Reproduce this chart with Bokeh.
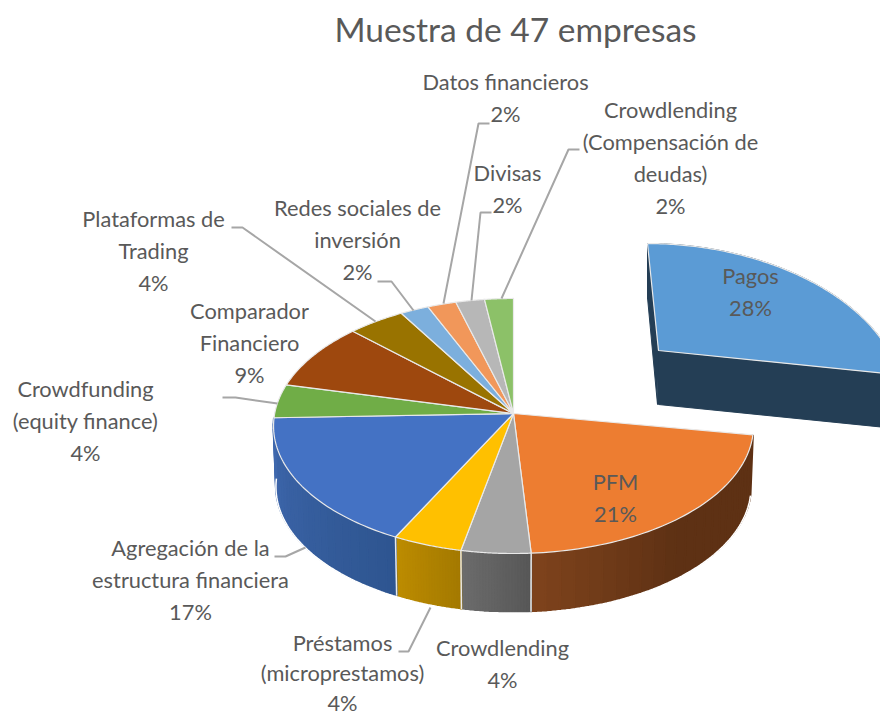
import numpy as np
from bokeh.plotting import figure
from bokeh.models import Range1d
from bokeh.core.properties import value
from bokeh.embed import file_html
from bokeh.resources import INLINE

# ---- data -----------------------------------------------------------------
title_text = "Muestra de 47 empresas"
categories = ["Pagos", "PFM", "Crowdlending", "Préstamos (microprestamos)",
              "Agregación de la estructura financiera", "Crowdfunding (equity finance)",
              "Comparador Financiero", "Plataformas de Trading", "Redes sociales de inversión",
              "Datos financieros", "Divisas", "Crowdlending (Compensación de deudas)"]
companies = [13, 10, 2, 2, 8, 2, 4, 2, 1, 1, 1, 1]
label_lines = [["Pagos"], ["PFM"], ["Crowdlending"], ["Préstamos", "(microprestamos)"],
               ["Agregación de la", "estructura financiera"], ["Crowdfunding", "(equity finance)"],
               ["Comparador", "Financiero"], ["Plataformas de", "Trading"],
               ["Redes sociales de", "inversión"], ["Datos financieros"], ["Divisas"],
               ["Crowdlending", "(Compensación de", "deudas)"]]
colors = ["#5B9BD5", "#ED7D31", "#A5A5A5", "#FFC000", "#4472C4", "#70AD47",
          "#9E480E", "#997300", "#7CAFDD", "#F1975A", "#B7B7B7", "#8CC168"]
wall_left = [None, "#7F431C", "#6C6C6C", "#BD8C00", "#3F68AE"] + [None] * 7
wall_right = [None, "#5E3114", "#575757", "#A37900", "#2E5590"] + [None] * 7

# ---- layout ---------------------------------------------------------------
W, H = 880, 715
CX, CY, B, A, K, DEPTH, SHRINK = 513, 413, 238.8, 126.3, 0.098, 60, 0.99
PX, PY, PB, PA, PK, PSKEW, PDEPTH = 658, 350, 230, 139, 0.30, 11, 54
EDGE = "#E9E9E9"
TEXT = "#595959"
LEADER = "#A6A6A6"
FONT = "Lato"
LABEL_SIZE = "21.8px"
label_x = [750, 615, 502, 342, 190, 85, 249, 153, 357, 505, 507, 670]
label_y = [275, 481, 647, 642, 547, 388, 310, 218, 207, 81, 172, 109]
label_step = [32, 32, 32, 30, 32, 32, 32, 32, 32, 32, 32, 32]
leaders = [
    ([489, 478, 443], [123, 123, 303]),
    ([491, 480, 471], [212, 212, 300]),
    ([579, 568, 501], [149, 149, 298]),
    ([377, 391, 413], [281, 281, 310]),
    ([231, 242, 375], [227, 227, 321]),
    ([222, 235, 277], [397, 397, 403]),
    ([274, 285, 305], [556, 556, 547]),
    ([398, 408, 430], [651, 651, 607]),
]


def main_rim(phi, scale=1.0, drop=0.0):
    u = -np.cos(phi)
    d = 1 - K * u
    return CX + scale * B * np.sin(phi) / d, CY + drop + scale * A * u / d


def pay_rim(phi, drop=0.0, scale=1.0):
    u = -np.cos(phi)
    d = 1 - PK * u
    return PX + scale * (PB * np.sin(phi) / d + PSKEW * u), PY + drop + scale * PA * u / d


def mix(c1, c2, t):
    a = [int(c1[i:i + 2], 16) for i in (1, 3, 5)]
    b = [int(c2[i:i + 2], 16) for i in (1, 3, 5)]
    return "#%02x%02x%02x" % tuple(int(round(x + (y - x) * t)) for x, y in zip(a, b))


shares = np.array(companies, dtype=float) / sum(companies)
edges = np.concatenate([[0.0], np.cumsum(shares)]) * 2 * np.pi

p = figure(width=W, height=H, x_range=Range1d(0, W), y_range=Range1d(H, 0),
           toolbar_location=None, output_backend="svg", min_border=0,
           outline_line_color=None, background_fill_color="white", border_fill_color="white")
p.axis.visible = False
p.grid.visible = False

# walls of the main pie (drawn clockwise; each strip overlaps the one before it)
xs, ys, fills = [], [], []
for i in range(1, 5):
    a0, a1 = edges[i], edges[i + 1]
    n = 24
    steps = np.linspace(a0, a1, n + 1)
    for j in range(n):
        t0, t1 = steps[j], steps[j + 1]
        arc_top = np.linspace(t0, t1, 5)
        xa, ya = main_rim(arc_top)
        xb, yb = main_rim(arc_top[::-1], SHRINK, DEPTH)
        xs.append(list(xa) + list(xb))
        ys.append(list(ya) + list(yb))
        f = (j + 0.5) / n
        if i == 1:
            f = max(0.0, (f - 0.55) / 0.45)
        fills.append(mix(wall_right[i], wall_left[i], f))
p.patches(xs, ys, fill_color=fills, line_color=fills, line_width=2.0)

# light seams of the walls
seam_x, seam_y = [], []
for i in range(2, 5):
    x0, y0 = main_rim(edges[i])
    x1, y1 = main_rim(edges[i], SHRINK, DEPTH)
    seam_x.append([x0, x1])
    seam_y.append([y0, y1])
p.multi_line(seam_x, seam_y, line_color=EDGE, line_width=1.5)
low = np.linspace(edges[1], edges[5], 160)
lx, ly = main_rim(low, SHRINK, DEPTH + 1)
p.line(lx, ly, line_color="white", line_width=1.5)

# top faces of the main pie
tx, ty = [], []
for i in range(1, 12):
    arc = np.linspace(edges[i], edges[i + 1], 60)
    ax, ay = main_rim(arc)
    tx.append([CX] + list(ax))
    ty.append([CY] + list(ay))
p.patches(tx, ty, fill_color=colors[1:], line_color=EDGE, line_width=1.2, line_join="round")

# exploded slice
arc = np.linspace(edges[0], edges[1], 120)
x_top, y_top = pay_rim(arc)
x_low, y_low = pay_rim(arc, PDEPTH, 0.985)
WALL = "#243E55"
p.patch(list(x_top) + list(x_low[::-1]), list(y_top) + list(y_low[::-1]),
        fill_color=WALL, line_color=WALL)
p.patch([PX, PX, x_low[-1], x_top[-1]], [PY, PY + PDEPTH, y_low[-1], y_top[-1]],
        fill_color=WALL, line_color=WALL)
p.patch([PX, PX - 1, x_low[0], x_top[0]], [PY, PY + PDEPTH, y_low[0], y_top[0]],
        fill_color=WALL, line_color=WALL)
p.patch([PX] + list(x_top), [PY] + list(y_top), fill_color=colors[0], line_color=EDGE, line_width=1.2)

# leader lines
p.multi_line([l[0] for l in leaders], [l[1] for l in leaders], line_color=LEADER, line_width=2)

# labels
lt, lxs, lys = [], [], []
for name_lines, cnt, x0, y0, step in zip(label_lines, companies, label_x, label_y, label_step):
    lines = name_lines + ["%d%%" % round(100 * cnt / sum(companies))]
    for k, s in enumerate(lines):
        lt.append(s)
        lxs.append(x0)
        lys.append(y0 + k * step)
p.text(lxs, lys, text=lt, text_font=value(FONT), text_font_size=value(LABEL_SIZE),
       text_color=TEXT, text_align="center", text_baseline="middle")
p.text([515], [28], text=[title_text], text_font=value(FONT), text_font_size=value("33.5px"),
       text_color=TEXT, text_align="center", text_baseline="middle")

open("out.html", "w").write(file_html(p, INLINE))
